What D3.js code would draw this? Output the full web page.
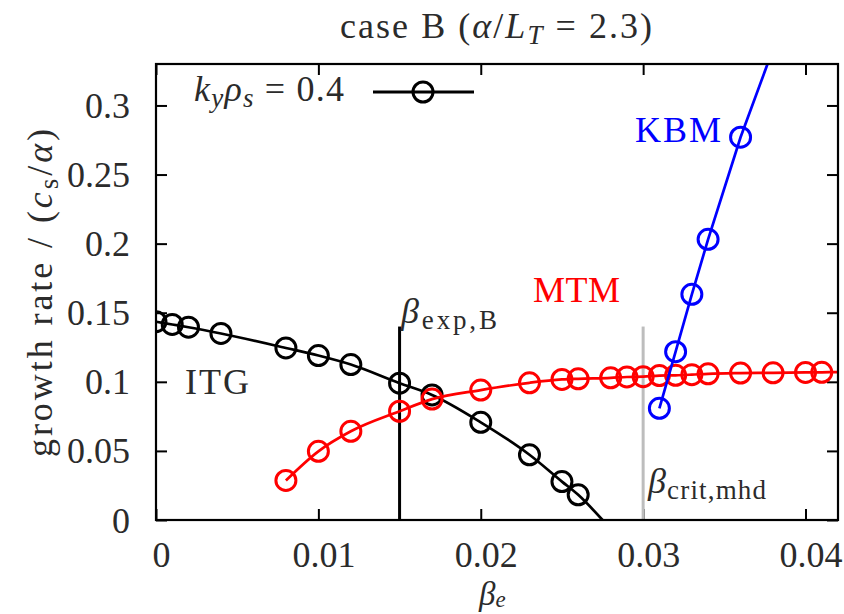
<!DOCTYPE html>
<html>
<head>
<meta charset="utf-8">
<script src="https://cdn.jsdelivr.net/npm/d3@7"></script>
<style>
  html, body { margin: 0; padding: 0; background: #fff; }
  svg { display: block; }
  text { font-family: "Liberation Serif", "Times New Roman", serif; }
</style>
</head>
<body>
<svg id="chart" width="844" height="614"></svg>
<script>
// Growth rate vs beta_e for k_y rho_s = 0.4 (case B)

// ITG branch
const itgBeta  = [0, 0.001, 0.002, 0.004, 0.008, 0.010, 0.012, 0.015, 0.017, 0.020, 0.023, 0.025, 0.026];
const itgGamma = [0.1435, 0.1415, 0.1395, 0.135, 0.1245, 0.119, 0.1125, 0.099, 0.0905, 0.0707, 0.0472, 0.0278, 0.0182];
// fitted curve continues down to zero growth
const itgFitEndBeta = 0.0275, itgFitEndGamma = 0;

// MTM branch
const mtmBeta  = [0.008, 0.010, 0.012, 0.015, 0.017, 0.020, 0.023, 0.025, 0.026, 0.028, 0.029, 0.030, 0.031, 0.032, 0.033, 0.034, 0.036, 0.038, 0.040, 0.041];
const mtmGamma = [0.0286, 0.0497, 0.0642, 0.0787, 0.0875, 0.094, 0.0993, 0.1017, 0.1022, 0.1029, 0.1035, 0.1037, 0.1045, 0.1047, 0.1052, 0.1058, 0.1063, 0.1065, 0.1068, 0.1069];
const mtmFitEndBeta = 0.042, mtmFitEndGamma = 0.107;

// KBM branch
const kbmBeta  = [0.031, 0.032, 0.033, 0.034, 0.036];
const kbmGamma = [0.0808, 0.1218, 0.1633, 0.2031, 0.277];
const kbmFitEndBeta = 0.03766, kbmFitEndGamma = 0.33;

// reference betas
const betaExp = 0.015, betaCrit = 0.030, betaMarkerTop = 0.14;

// axes
const xTicks = [0, 0.01, 0.02, 0.03, 0.04];
const xTickLabels = ["0", "0.01", "0.02", "0.03", "0.04"];
const yTicks = [0, 0.05, 0.1, 0.15, 0.2, 0.25, 0.3];
const yTickLabels = ["0", "0.05", "0.1", "0.15", "0.2", "0.25", "0.3"];
const xDomain = [0, 0.042], yDomain = [0, 0.33];

const svg = d3.select("#chart");
const L = 156, R = 838, T = 64, B = 520;
const x = d3.scaleLinear().domain(xDomain).range([L, R]);
const y = d3.scaleLinear().domain(yDomain).range([B, T]);

const FS = 36, SUB = 27, TEXT = "#2b2b2b";

svg.append("defs").append("clipPath").attr("id", "plot")
  .append("rect").attr("x", L).attr("y", T).attr("width", R - L).attr("height", B - T);

// ticks (inward, mirrored)
const tickLen = 11;
const axB = d3.axisBottom(x).tickValues(xTicks).tickSize(-tickLen).tickFormat((d, i) => xTickLabels[i]);
const axT = d3.axisTop(x).tickValues(xTicks).tickSize(-tickLen).tickFormat("");
const axL = d3.axisLeft(y).tickValues(yTicks).tickSize(-tickLen).tickFormat((d, i) => yTickLabels[i]);
const axR = d3.axisRight(y).tickValues(yTicks).tickSize(-tickLen).tickFormat("");

function styleAxis(g) {
  g.select(".domain").remove();
  g.selectAll(".tick line").attr("stroke", "#000").attr("stroke-width", 2);
  g.selectAll(".tick text").attr("fill", TEXT).style("font-size", FS + "px");
}
svg.append("g").attr("transform", `translate(0,${B})`).call(axB).call(styleAxis)
  .selectAll(".tick text").attr("y", 0).attr("dy", 47).attr("dx", 5);
svg.append("g").attr("transform", `translate(0,${T})`).call(axT).call(styleAxis);
svg.append("g").attr("transform", `translate(${L},0)`).call(axL).call(styleAxis)
  .selectAll(".tick text").attr("x", -26).attr("dy", 12);
svg.append("g").attr("transform", `translate(${R},0)`).call(axR).call(styleAxis);

// reference beta markers
svg.append("line").attr("x1", x(betaCrit)).attr("x2", x(betaCrit))
  .attr("y1", y(0)).attr("y2", y(betaMarkerTop)).attr("stroke", "#bdbdbd").attr("stroke-width", 3);
svg.append("line").attr("x1", x(betaExp)).attr("x2", x(betaExp))
  .attr("y1", y(0)).attr("y2", y(betaMarkerTop)).attr("stroke", "#000").attr("stroke-width", 3);

// branches
const smooth = d3.line().x(d => x(d[0])).y(d => y(d[1])).curve(d3.curveMonotoneX);
const straight = d3.line().x(d => x(d[0])).y(d => y(d[1]));
const plot = svg.append("g").attr("clip-path", "url(#plot)");

function branch(bx, gy, endB, endG, color, gen) {
  const pts = bx.map((b, i) => [b, gy[i]]);
  const fit = pts.concat([[endB, endG]]);
  plot.append("path").attr("d", gen(fit))
    .attr("fill", "none").attr("stroke", color).attr("stroke-width", 2.7);
  plot.append("g").selectAll("circle").data(pts).join("circle")
    .attr("cx", d => x(d[0])).attr("cy", d => y(d[1])).attr("r", 10)
    .attr("fill", "none").attr("stroke", color).attr("stroke-width", 3);
}
branch(itgBeta, itgGamma, itgFitEndBeta, itgFitEndGamma, "#000", smooth);
branch(mtmBeta, mtmGamma, mtmFitEndBeta, mtmFitEndGamma, "#ff0000", smooth);
branch(kbmBeta, kbmGamma, kbmFitEndBeta, kbmFitEndGamma, "#0000ff", straight);

// frame
svg.append("rect").attr("x", L).attr("y", T).attr("width", R - L).attr("height", B - T)
  .attr("fill", "none").attr("stroke", "#000").attr("stroke-width", 2.2);

// text with italic / subscript pieces, optionally stretched to a given width
function rich(xp, yp, parts, fill, anchor, width, size, subSize, subShift) {
  const fs = size || FS, ss = subSize || SUB, sh = subShift == null ? 6 : subShift;
  const t = svg.append("text").attr("x", xp).attr("y", yp).attr("fill", fill)
    .attr("text-anchor", anchor || "start").style("font-size", fs + "px");
  let shifted = false;
  parts.forEach(p => {
    const s = t.append("tspan").text(p.t);
    if (p.i) s.style("font-style", "italic");
    if (p.sub && !shifted) { s.attr("dy", sh); shifted = true; }
    else if (!p.sub && shifted) { s.attr("dy", -sh); shifted = false; }
    if (p.sub) s.style("font-size", ss + "px");
  });
  if (width) t.attr("textLength", width).attr("lengthAdjust", "spacing");
  return t;
}

// title
rich(496, 38, [
  { t: "case B (" }, { t: "α", i: true }, { t: "/" }, { t: "L", i: true },
  { t: "T", i: true, sub: true }, { t: " = 2.3)" }
], TEXT, "middle", 312);

// legend
rich(194, 101, [
  { t: "k", i: true }, { t: "y", i: true, sub: true }, { t: "ρ", i: true },
  { t: "s", i: true, sub: true }, { t: " = 0.4" }
], TEXT, "start", 150);
const legY = 92;
svg.append("line").attr("x1", 373).attr("x2", 474).attr("y1", legY).attr("y2", legY)
  .attr("stroke", "#000").attr("stroke-width", 3);
svg.append("circle").attr("cx", 423).attr("cy", legY).attr("r", 10)
  .attr("fill", "none").attr("stroke", "#000").attr("stroke-width", 3);

// axis titles
rich(479, 605, [{ t: "β", i: true }, { t: "e", i: true, sub: true }], TEXT, "start", null, 33, 23, 2);
const yl = rich(0, 0, [
  { t: "growth rate / (" }, { t: "c", i: true }, { t: "s", sub: true },
  { t: "/" }, { t: "α", i: true }, { t: ")" }
], TEXT, "middle", 328);
yl.attr("transform", `translate(52,${(T + B) / 2 + 1}) rotate(-90)`);

// branch labels
rich(185, 394, [{ t: "ITG" }], TEXT, "start", 64);
rich(533, 302, [{ t: "MTM" }], "#ff0000", "start", 87);
rich(635, 142, [{ t: "KBM" }], "#0000ff", "start", 86);
rich(401, 323, [{ t: "β", i: true }, { t: "exp,B", sub: true }], TEXT, "start", 96);
rich(648, 493, [{ t: "β", i: true }, { t: "crit,mhd", sub: true }], TEXT, "start", 118);
</script>
</body>
</html>
